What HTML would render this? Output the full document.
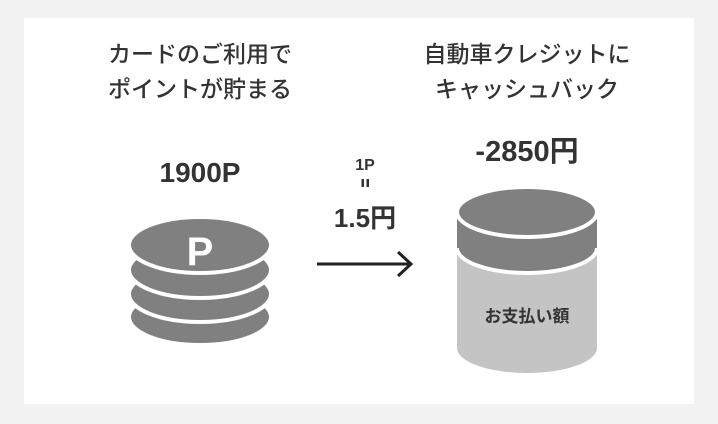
<!DOCTYPE html>
<html><head><meta charset="utf-8"><style>
body{margin:0;width:718px;height:424px;background:#f2f2f2;overflow:hidden;font-family:"Liberation Sans","Noto Sans CJK JP",sans-serif;}
</style></head><body>
<svg width="718" height="424" xmlns="http://www.w3.org/2000/svg" style="position:absolute;left:0;top:0">
<rect x="24" y="18" width="670" height="386" fill="#fff"/>
<!-- coins -->
<g fill="#808080" stroke="#fff" stroke-width="4">
<ellipse cx="200" cy="317" rx="71" ry="28"/>
<ellipse cx="200" cy="294" rx="71" ry="28"/>
<ellipse cx="200" cy="270" rx="71" ry="28"/>
<ellipse cx="200" cy="245" rx="71" ry="28"/>
</g>
<text x="200" y="265" font-size="40" font-weight="bold" fill="#fff" text-anchor="middle" font-family="Liberation Sans, sans-serif">P</text>
<!-- arrow -->
<line x1="317" y1="264" x2="410" y2="264" stroke="#222" stroke-width="3"/>
<polyline points="398,252 411,264 398,276" fill="none" stroke="#222" stroke-width="3"/>
<!-- cylinder -->
<path d="M457 240 L457 348 A70 25 0 0 0 597 348 L597 240 Z" fill="#c4c4c4"/>
<path d="M457 212 L457 248 A70 25 0 0 0 597 248 L597 212 Z" fill="#808080"/>
<path d="M457 248 A70 25 0 0 0 597 248" fill="none" stroke="#fff" stroke-width="4"/>
<ellipse cx="527" cy="212" rx="70" ry="25" fill="#808080" stroke="#fff" stroke-width="4"/>
<g font-family="Liberation Sans, Noto Sans CJK JP, sans-serif" fill="#333" text-anchor="middle">
<text x="200" y="62" font-size="23" font-weight="500">カードのご利用で</text>
<text x="200" y="97" font-size="23" font-weight="500">ポイントが貯まる</text>
<text x="527" y="62" font-size="23" font-weight="500">自動車クレジットに</text>
<text x="527" y="97" font-size="23" font-weight="500">キャッシュバック</text>
<text x="200" y="182" font-size="28" font-weight="bold">1900P</text>
<text x="527" y="161" font-size="29" font-weight="bold">-2850円</text>
<text x="365" y="170" font-size="16" font-weight="bold">1P</text>
<text x="365" y="227" font-size="26" font-weight="bold">1.5円</text>
<text x="527" y="322" font-size="17" font-weight="bold">お支払い額</text>
</g>
<rect x="361.5" y="179" width="2.5" height="8" fill="#333"/>
<rect x="366.5" y="179" width="2.5" height="8" fill="#333"/>
</svg>
</body></html>
